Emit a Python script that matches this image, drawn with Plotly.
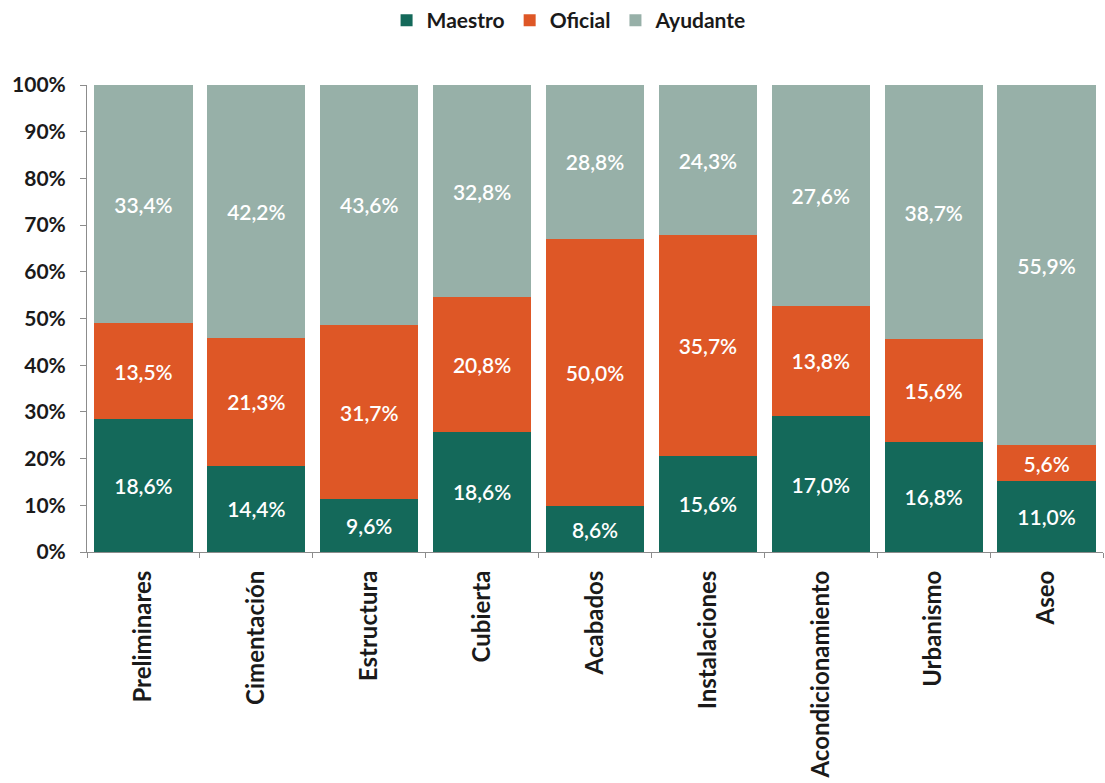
import plotly.graph_objects as go

categorias = ["Preliminares", "Cimentación", "Estructura", "Cubierta", "Acabados",
              "Instalaciones", "Acondicionamiento", "Urbanismo", "Aseo"]
maestro = [18.6, 14.4, 9.6, 18.6, 8.6, 15.6, 17.0, 16.8, 11.0]
oficial = [13.5, 21.3, 31.7, 20.8, 50.0, 35.7, 13.8, 15.6, 5.6]
ayudante = [33.4, 42.2, 43.6, 32.8, 28.8, 24.3, 27.6, 38.7, 55.9]
y_ticks = list(range(0, 101, 10))

series = [
    ("Maestro", maestro, "#14695A"),
    ("Oficial", oficial, "#DE5726"),
    ("Ayudante", ayudante, "#97B0A8"),
]

FONT = "Lato"
INK = "#1a1a1a"


def etiqueta(v):
    return f"{v:.1f}%".replace(".", ",")


fig = go.Figure()
for nombre, valores, color in series:
    fig.add_trace(go.Bar(
        name=nombre,
        x=categorias,
        y=valores,
        marker=dict(color=color, line=dict(width=0)),
        text=[etiqueta(v) for v in valores],
        textposition="inside",
        insidetextanchor="middle",
        textangle=0,
        constraintext="none",
        textfont=dict(family=FONT, size=21, color="white", weight=600),
        hoverinfo="skip",
    ))

fig.update_layout(
    barmode="stack",
    barnorm="percent",
    bargap=0.13,
    width=1105,
    height=783,
    margin=dict(l=87, r=2, t=85, b=231),
    plot_bgcolor="white",
    paper_bgcolor="white",
    font=dict(family=FONT, color=INK),
    legend=dict(
        orientation="h",
        x=0.515, xanchor="center", xref="container",
        y=1.0, yanchor="top", yref="container",
        font=dict(family=FONT, size=21, weight="bold", color=INK),
        traceorder="normal",
    ),
    showlegend=True,
)

fig.update_xaxes(
    automargin=False,
    tickangle=-90,
    tickfont=dict(family=FONT, size=24, weight="bold", color=INK),
    ticklabelstandoff=8,
    showline=True, linecolor="#8c8c8c", linewidth=1,
    ticks="outside", tickson="boundaries", ticklen=5, tickcolor="#8c8c8c",
    showgrid=False,
)
fig.update_yaxes(
    automargin=False,
    range=[0, 100],
    tickvals=y_ticks,
    ticktext=[f"{t}%" for t in y_ticks],
    tickfont=dict(family=FONT, size=21, weight="bold", color=INK),
    ticklabelstandoff=10,
    showline=True, linecolor="#8c8c8c", linewidth=1,
    ticks="outside", ticklen=6, tickcolor="#8c8c8c",
    showgrid=False, zeroline=False,
)

fig.write_html("out.html")
